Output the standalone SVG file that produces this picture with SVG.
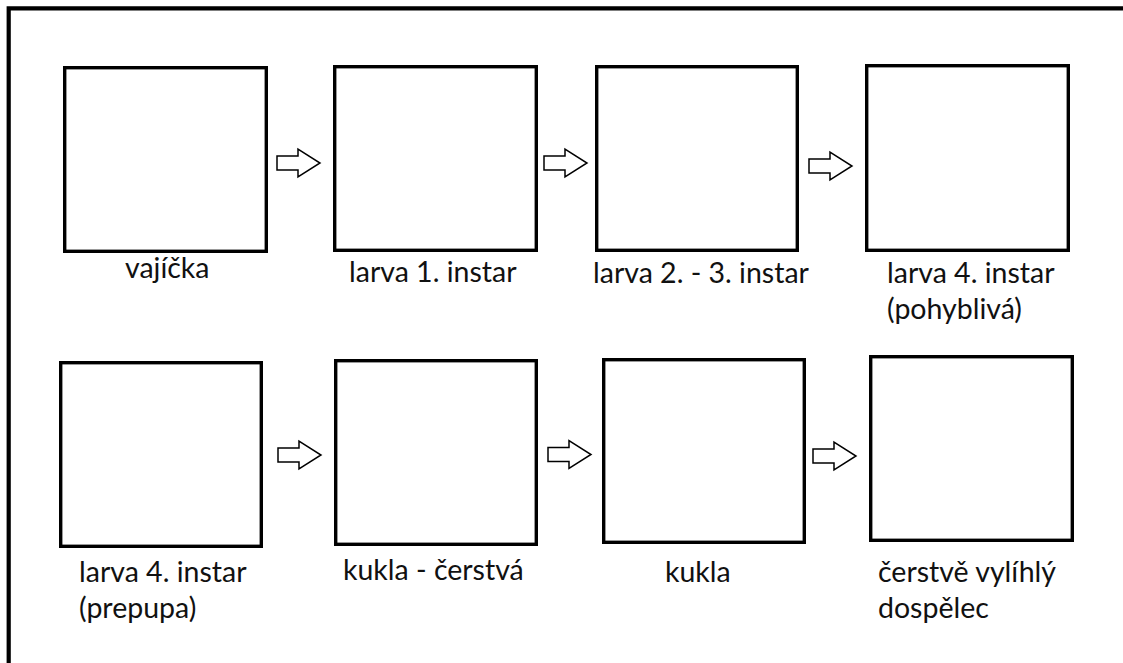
<svg xmlns="http://www.w3.org/2000/svg" width="1123" height="663" viewBox="0 0 1123 663">
<style>
.box{fill:#fff;stroke:#000;stroke-width:3.4}
.arr{fill:#fff;stroke:#000;stroke-width:1.5;stroke-linejoin:miter}
.lbl{font-family:Lato,"Open Sans",sans-serif;font-size:28.5px;fill:#111}
</style>
<defs>
<path id="blockArrow" d="M-43,-7 H-22 V-14 L0,0 L-22,14 V7 H-43 Z"/>
</defs>
<rect x="0" y="0" width="1123" height="663" fill="#fff"/>
<path id="frame" d="M8.7,663 V8.3 H1123" fill="none" stroke="#000" stroke-width="4.2"/>
<g id="n1"><rect class="box" x="64.7" y="67.7" width="201.6" height="183.6"/><text class="lbl" x="125" y="278">vajíčka</text></g>
<g id="n2"><rect class="box" x="334.7" y="66.7" width="201.6" height="183.6"/><text class="lbl" x="349" y="282">larva 1. instar</text></g>
<g id="n3"><rect class="box" x="596.7" y="66.7" width="200.6" height="183.6"/><text class="lbl" x="593" y="283">larva 2. - 3. instar</text></g>
<g id="n4"><rect class="box" x="866.7" y="65.7" width="201.6" height="184.6"/><text class="lbl" x="887" y="283">larva 4. instar</text><text class="lbl" x="887" y="319">(pohyblivá)</text></g>
<g id="n5"><rect class="box" x="60.7" y="362.7" width="200.6" height="183.6"/><text class="lbl" x="79" y="582">larva 4. instar</text><text class="lbl" x="79" y="618">(prepupa)</text></g>
<g id="n6"><rect class="box" x="335.7" y="360.7" width="200.6" height="183.6"/><text class="lbl" x="343" y="580">kukla - čerstvá</text></g>
<g id="n7"><rect class="box" x="603.7" y="359.7" width="200.6" height="182.6"/><text class="lbl" x="665" y="582">kukla</text></g>
<g id="n8"><rect class="box" x="870.7" y="356.7" width="201.6" height="183.6"/><text class="lbl" x="878" y="582">čerstvě vylíhlý</text><text class="lbl" x="878" y="618">dospělec</text></g>
<g id="connectors">
<use href="#blockArrow" class="arr" transform="translate(320,163)"/>
<use href="#blockArrow" class="arr" transform="translate(587,163)"/>
<use href="#blockArrow" class="arr" transform="translate(852,166)"/>
<use href="#blockArrow" class="arr" transform="translate(321,455)"/>
<use href="#blockArrow" class="arr" transform="translate(591,454.5)"/>
<use href="#blockArrow" class="arr" transform="translate(856,456)"/>
</g>
</svg>
